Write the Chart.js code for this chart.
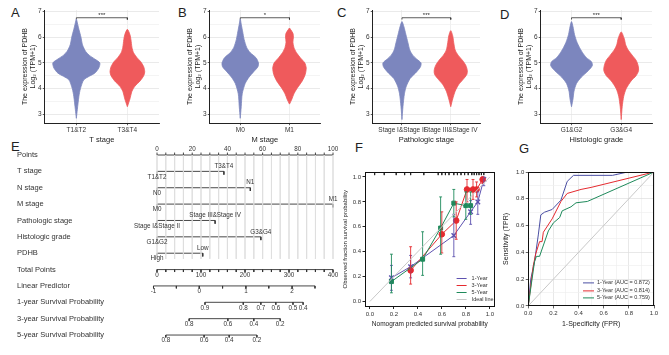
<!DOCTYPE html>
<html>
<head>
<meta charset="utf-8">
<script src="https://cdn.jsdelivr.net/npm/chart.js@4.4.0/dist/chart.umd.min.js"></script>
<style>
    html, body { margin: 0; padding: 0; background: #fff; }
    body { width: 669px; height: 355px; position: relative; overflow: hidden; font-family: "Liberation Sans", Arial, sans-serif; }
    canvas { position: absolute; }
    .tag { position: absolute; font-size: 13px; color: #222; line-height: 1; }
</style>
</head>
<body>
<div class="tag" style="left:11px;top:6px">A</div>
<div class="tag" style="left:178px;top:6px">B</div>
<div class="tag" style="left:337px;top:6px">C</div>
<div class="tag" style="left:500px;top:8px">D</div>
<div class="tag" style="left:11px;top:140px">E</div>
<div class="tag" style="left:355px;top:141px">F</div>
<div class="tag" style="left:519px;top:142px">G</div>

<canvas id="cA" width="165" height="145" style="left:0;top:0"></canvas>
<canvas id="cB" width="165" height="145" style="left:165px;top:0"></canvas>
<canvas id="cC" width="165" height="145" style="left:330px;top:0"></canvas>
<canvas id="cD" width="174" height="145" style="left:495px;top:0"></canvas>
<canvas id="cE" width="345" height="215" style="left:0;top:140px"></canvas>
<canvas id="cF" width="164" height="200" style="left:336px;top:140px"></canvas>
<canvas id="cG" width="169" height="200" style="left:500px;top:140px"></canvas>

<script>
    // --- A-D: violin panels (y level / half width) ---
    var catsA = ['T1&T2', 'T3&T4'];
    var catsB = ['M0', 'M1'];
    var catsC = ['Stage I&Stage II', 'Stage III&Stage IV'];
    var catsD = ['G1&G2', 'G3&G4'];

    var yA1 = [2.85, 3.2, 3.7, 4.0, 4.35, 4.6, 4.8, 5.0, 5.15, 5.3, 5.45, 5.7, 6.0, 6.3, 6.55, 6.7];
    var wA1 = [0, 0.02, 0.05, 0.08, 0.15, 0.36, 0.44, 0.46, 0.36, 0.25, 0.18, 0.12, 0.09, 0.05, 0.02, 0];
    var yA2 = [3.3, 3.6, 3.9, 4.1, 4.3, 4.5, 4.65, 4.85, 5.05, 5.2, 5.4, 5.6, 5.9, 6.1, 6.3];
    var wA2 = [0, 0.05, 0.09, 0.15, 0.25, 0.32, 0.34, 0.32, 0.26, 0.19, 0.12, 0.09, 0.07, 0.05, 0];

    var yB1 = [2.85, 3.3, 3.8, 4.2, 4.45, 4.65, 4.85, 5.0, 5.2, 5.4, 5.6, 5.9, 6.2, 6.5, 6.7];
    var wB1 = [0, 0.02, 0.04, 0.1, 0.18, 0.27, 0.36, 0.37, 0.32, 0.2, 0.13, 0.08, 0.05, 0.02, 0];
    var yB2 = [3.4, 3.6, 3.8, 4.0, 4.3, 4.55, 4.8, 5.0, 5.2, 5.4, 5.6, 5.8, 6.0, 6.15, 6.3, 6.35];
    var wB2 = [0, 0.05, 0.09, 0.15, 0.26, 0.32, 0.34, 0.31, 0.22, 0.14, 0.09, 0.07, 0.08, 0.07, 0.02, 0];

    var yC1 = [2.8, 3.3, 3.8, 4.1, 4.4, 4.65, 4.85, 5.0, 5.15, 5.3, 5.5, 5.8, 6.1, 6.4, 6.6];
    var wC1 = [0, 0.02, 0.05, 0.09, 0.17, 0.3, 0.38, 0.39, 0.3, 0.22, 0.16, 0.12, 0.08, 0.04, 0];
    var yC2 = [3.3, 3.6, 3.9, 4.15, 4.35, 4.55, 4.7, 4.9, 5.1, 5.3, 5.5, 5.8, 6.05, 6.25];
    var wC2 = [0, 0.04, 0.09, 0.16, 0.25, 0.33, 0.34, 0.31, 0.24, 0.15, 0.09, 0.06, 0.04, 0];

    var yD1 = [3.3, 3.6, 3.9, 4.2, 4.45, 4.7, 4.9, 5.05, 5.2, 5.4, 5.6, 5.8, 6.1, 6.4, 6.6];
    var wD1 = [0, 0.03, 0.05, 0.1, 0.2, 0.34, 0.42, 0.4, 0.3, 0.22, 0.16, 0.11, 0.06, 0.03, 0];
    var yD2 = [2.8, 3.3, 3.7, 4.0, 4.3, 4.5, 4.7, 4.9, 5.1, 5.3, 5.5, 5.7, 5.95, 6.2];
    var wD2 = [0, 0.02, 0.05, 0.1, 0.2, 0.3, 0.35, 0.34, 0.3, 0.22, 0.14, 0.09, 0.06, 0];

    // median and error bar ends [group1, group2]
    var medA = [4.9, 4.65],  loA = [4.35, 4.1],  hiA = [5.4, 5.2];
    var medB = [4.82, 4.7],  loB = [4.25, 4.1],  hiB = [5.38, 5.3];
    var medC = [4.88, 4.65], loC = [4.38, 4.1],  hiC = [5.38, 5.22];
    var medD = [4.88, 4.72], loD = [4.4, 4.15],  hiD = [5.35, 5.33];
    var yTicks = [3, 3.5, 4, 4.5, 5, 5.5, 6, 6.5, 7];

    // --- E: nomogram ---
    var rowNames = ['Points', 'T stage', 'N stage', 'M stage', 'Pathologic stage', 'Histologic grade', 'PDHB',
        'Total Points', 'Linear Predictor', '1-year Survival Probability', '3-year Survival Probability', '5-year Survival Probability'];
    var factorLow = ['T1&T2', 'N0', 'M0', 'Stage I&Stage II', 'G1&G2', 'High'];
    var factorHigh = ['T3&T4', 'N1', 'M1', 'Stage III&Stage IV', 'G3&G4', 'Low'];
    var factorPoints = [38, 53, 100, 33, 59, 26];
    var pointLabels = [0, 20, 40, 60, 80, 100];
    var totalLabels = [0, 100, 200, 300, 400];
    var lpTicks = [-1, -0.5, 0, 0.5, 1, 1.5, 2, 2.5];
    var lpTotal = [-8, 44, 96, 149, 202, 254, 307, 359];
    var surv1 = [0.9, 0.8, 0.7, 0.6, 0.5, 0.4];
    var surv1Total = [109, 196, 236, 270, 309, 332];
    var surv3 = [0.8, 0.6, 0.4, 0.2];
    var surv3Total = [73, 161, 220, 280];
    var surv5 = [0.8, 0.6, 0.4, 0.2];
    var surv5Total = [20, 107, 164, 227];

    // --- F: calibration ---
    var calNames = ['1-Year', '3-Year', '5-Year', 'Ideal line'];
    var f1x = [0.18, 0.34, 0.70, 0.84, 0.90, 0.95];
    var f1y = [0.19, 0.28, 0.53, 0.72, 0.80, 0.98];
    var f1lo = [0.09, 0.19, 0.36, 0.62, 0.70, 0.93];
    var f1hi = [0.29, 0.37, 0.70, 0.81, 0.88, 1.00];
    var f3x = [0.34, 0.60, 0.72, 0.81, 0.86, 0.89, 0.94];
    var f3y = [0.25, 0.54, 0.65, 0.90, 0.90, 0.90, 0.98];
    var f3lo = [0.14, 0.39, 0.50, 0.80, 0.82, 0.84, 0.95];
    var f3hi = [0.44, 0.72, 0.80, 0.98, 0.98, 0.96, 1.00];
    var f5x = [0.18, 0.44, 0.59, 0.70, 0.80, 0.84];
    var f5y = [0.16, 0.34, 0.59, 0.79, 0.77, 0.77];
    var f5lo = [0.07, 0.21, 0.38, 0.68, 0.66, 0.70];
    var f5hi = [0.38, 0.56, 0.84, 0.90, 0.88, 0.88];
    var fRug = [0.04, 0.12, 0.22, 0.29, 0.34, 0.45, 0.57, 0.60, 0.63, 0.66, 0.70, 0.73, 0.76, 0.79, 0.82, 0.85, 0.87, 0.89, 0.91, 0.93, 0.95];

    // --- G: ROC ---
    var rocNames = ['1-Year', '3-Year', '5-Year'];
    var rocAuc = [0.872, 0.814, 0.759];
    var g1x = [0, 0.02, 0.05, 0.08, 0.10, 0.13, 0.19, 0.26, 0.31, 0.36, 0.67, 0.79, 1.0];
    var g1y = [0, 0.20, 0.33, 0.53, 0.68, 0.70, 0.72, 0.79, 0.93, 0.975, 0.975, 1.0, 1.0];
    var g3x = [0, 0.04, 0.06, 0.09, 0.11, 0.12, 0.19, 0.26, 0.31, 0.42, 0.50, 1.0];
    var g3y = [0, 0.30, 0.39, 0.48, 0.48, 0.55, 0.65, 0.78, 0.84, 0.87, 0.885, 1.0];
    var g5x = [0, 0.05, 0.065, 0.09, 0.16, 0.20, 0.25, 0.27, 0.34, 0.38, 0.47, 1.0];
    var g5y = [0, 0.33, 0.37, 0.37, 0.56, 0.62, 0.66, 0.71, 0.74, 0.77, 0.78, 1.0];

    var FONT = '"Liberation Sans", Arial, sans-serif';
    Chart.defaults.font.family = FONT;
    Chart.defaults.color = '#333';

    function gap() { return {x: 0, y: null}; }
    function zip(xs, ys) { return xs.map(function (x, i) { return {x: x, y: ys[i]}; }); }

    // right outline upwards, left outline downwards, back to the bottom tip
    function violinPts(cx, ys, ws) {
        var pts = [];
        for (var i = 0; i < ys.length; i++) pts.push({x: cx + ws[i], y: ys[i]});
        for (var j = ys.length - 2; j >= 0; j--) pts.push({x: cx - ws[j], y: ys[j]});
        return pts;
    }

    function crossPts(cx, med, lo, hi) {
        return [{x: cx - 0.27, y: med}, {x: cx + 0.27, y: med}, gap(),
            {x: cx, y: lo}, {x: cx, y: hi}, gap(),
            {x: cx - 0.1, y: lo}, {x: cx + 0.1, y: lo}, gap(),
            {x: cx - 0.1, y: hi}, {x: cx + 0.1, y: hi}];
    }

    function baseOpts() {
        return {devicePixelRatio: 1, responsive: false, animation: false, events: [],
            plugins: {legend: {display: false}, tooltip: {enabled: false}}};
    }

    // 1. violin panels
    function violinChart(id, o) {
        var blue = '#7C86BE', red = '#EF5A5C';
        var ds = [
            {data: violinPts(1, o.ys[0], o.ws[0]), backgroundColor: blue, borderColor: blue, borderWidth: 0.8, fill: 'shape', tension: 0.25, pointRadius: 0, showLine: true},
            {data: violinPts(2, o.ys[1], o.ws[1]), backgroundColor: red, borderColor: red, borderWidth: 0.8, fill: 'shape', tension: 0.25, pointRadius: 0, showLine: true},
            {data: crossPts(1, o.med[0], o.lo[0], o.hi[0]), borderColor: '#1a1a1a', borderWidth: 1, pointRadius: 0, showLine: true},
            {data: crossPts(2, o.med[1], o.lo[1], o.hi[1]), borderColor: '#1a1a1a', borderWidth: 1, pointRadius: 0, showLine: true},
            {data: [{x: 1, y: 6.68}, {x: 1, y: 6.75}, {x: 2, y: 6.75}, {x: 2, y: 6.68}], borderColor: '#333', borderWidth: 0.8, pointRadius: 0, showLine: true}
        ];
        var opts = baseOpts();
        opts.layout = {padding: {left: o.padL, right: o.padR, top: 10, bottom: 1}};
        opts.scales = {
            x: {type: 'linear', min: o.xmin, max: o.xmax,
                afterBuildTicks: function (ax) { ax.ticks = [{value: 1}, {value: 2}]; },
                ticks: {callback: function (v) { return o.cats[v - 1]; }, font: {size: 6.5}, color: '#333', padding: 1, maxRotation: 0, autoSkip: false},
                grid: {color: '#ebebeb', tickColor: '#333', tickLength: 2, lineWidth: 0.8},
                border: {color: '#222', width: 1},
                title: {display: true, text: o.title, font: {size: 7.5}, color: '#222', padding: {top: 0, bottom: 0}}},
            y: {type: 'linear', min: 2.66, max: 7.05,
                afterBuildTicks: function (ax) { ax.ticks = yTicks.map(function (v) { return {value: v}; }); },
                ticks: {callback: function (v) { return v % 1 === 0 ? String(v) : ''; }, font: {size: 6.5}, color: '#333', padding: 1},
                grid: {
                    color: function (c) { return c.tick && c.tick.value % 1 === 0 ? '#e4e4e4' : '#f1f1f1'; },
                    tickColor: function (c) { return c.tick && c.tick.value % 1 === 0 ? '#333' : 'rgba(0,0,0,0)'; },
                    tickLength: 2, lineWidth: 0.8},
                border: {color: '#222', width: 1},
                title: {display: true, text: ['The expression of PDHB', 'Log\u2082 (TPM+1)'], font: {size: 7, lineHeight: 1.15}, color: '#222', padding: {top: 0, bottom: 0}}}
        };
        new Chart(document.getElementById(id), {
            type: 'scatter',
            data: {datasets: ds},
            options: opts,
            plugins: [{id: 'sig', afterDatasetsDraw: function (c) {
                var ctx = c.ctx;
                ctx.save();
                ctx.fillStyle = '#222';
                ctx.font = '6px ' + FONT;
                ctx.textAlign = 'center';
                ctx.textBaseline = 'bottom';
                ctx.fillText(o.sig, c.scales.x.getPixelForValue(1.5), c.scales.y.getPixelForValue(6.75) + 1);
                ctx.restore();
            }}]
        });
    }

    violinChart('cA', {cats: catsA, title: 'T stage', sig: '***', ys: [yA1, yA2], ws: [wA1, wA2], med: medA, lo: loA, hi: hiA, padL: 21, padR: 6, xmin: 0.38, xmax: 2.62});
    violinChart('cB', {cats: catsB, title: 'M stage', sig: '*', ys: [yB1, yB2], ws: [wB1, wB2], med: medB, lo: loB, hi: hiB, padL: 21, padR: 10, xmin: 0.38, xmax: 2.62});
    violinChart('cC', {cats: catsC, title: 'Pathologic stage', sig: '***', ys: [yC1, yC2], ws: [wC1, wC2], med: medC, lo: loC, hi: hiC, padL: 19, padR: 15, xmin: 0.4, xmax: 2.6});
    violinChart('cD', {cats: catsD, title: 'Histologic grade', sig: '***', ys: [yD1, yD2], ws: [wD1, wD2], med: medD, lo: loD, hi: hiD, padL: 22, padR: 17, xmin: 0.38, xmax: 2.62});

    // 2. nomogram
    (function () {
        var grid = [], axes = [];
        for (var g = 0; g <= 100; g += 5) grid.push({x: g, y: 0}, {x: g, y: 6.35}, gap());
        // Points axis, ticks up
        axes.push({x: 0, y: 0}, {x: 100, y: 0}, gap());
        for (var p = 0; p <= 100; p += 5) axes.push({x: p, y: 0}, {x: p, y: -0.15}, gap());
        // factor rows
        factorPoints.forEach(function (pt, i) {
            var r = i + 1;
            axes.push({x: 0, y: r + 0.2}, {x: 0, y: r}, {x: pt, y: r}, {x: pt, y: r + 0.2}, gap());
        });
        // Total points
        axes.push({x: 0, y: 7}, {x: 100, y: 7}, gap());
        for (var t = 0; t <= 400; t += 20) axes.push({x: t / 4, y: 7}, {x: t / 4, y: 7.15}, gap());
        function scaleRow(totals, r) {
            axes.push({x: totals[0] / 4, y: r}, {x: totals[totals.length - 1] / 4, y: r}, gap());
            totals.forEach(function (v) { axes.push({x: v / 4, y: r}, {x: v / 4, y: r + 0.15}, gap()); });
        }
        scaleRow(lpTotal, 8);
        scaleRow(surv1Total, 9);
        scaleRow(surv3Total, 10);
        scaleRow(surv5Total, 11);

        var opts = baseOpts();
        opts.layout = {padding: 0, autoPadding: false};
        opts.scales = {
            x: {type: 'linear', min: -89.2, max: 106.8, display: false},
            y: {type: 'linear', min: -0.917, max: 12.22, reverse: true, display: false}
        };
        new Chart(document.getElementById('cE'), {
            type: 'scatter',
            data: {datasets: [
                {data: grid, borderColor: '#dcdcdc', borderWidth: 0.7, pointRadius: 0, showLine: true},
                {data: axes, borderColor: '#333', borderWidth: 0.9, pointRadius: 0, showLine: true}
            ]},
            options: opts,
            plugins: [{id: 'nomoText', afterDatasetsDraw: function (c) {
                var ctx = c.ctx, xs = c.scales.x, ys = c.scales.y;
                function txt(s, x, y, align) { ctx.textAlign = align || 'center'; ctx.fillText(s, x, y); }
                ctx.save();
                ctx.fillStyle = '#333';
                ctx.textBaseline = 'middle';
                ctx.font = '7.5px ' + FONT;
                rowNames.forEach(function (n, i) { txt(n, 17, ys.getPixelForValue(i), 'left'); });
                ctx.font = '6.3px ' + FONT;
                pointLabels.forEach(function (v) { txt(String(v), xs.getPixelForValue(v), ys.getPixelForValue(0) - 6); });
                factorPoints.forEach(function (pt, i) {
                    var y = ys.getPixelForValue(i + 1);
                    txt(factorHigh[i], xs.getPixelForValue(pt), y - 5);
                    txt(factorLow[i], xs.getPixelForValue(0), y + 5.5);
                });
                totalLabels.forEach(function (v) { txt(String(v), xs.getPixelForValue(v / 4), ys.getPixelForValue(7) + 5.5); });
                lpTicks.forEach(function (v, i) {
                    if (v % 1 === 0) txt(String(v), xs.getPixelForValue(lpTotal[i] / 4), ys.getPixelForValue(8) + 5.5);
                });
                [[surv1, surv1Total, 9], [surv3, surv3Total, 10], [surv5, surv5Total, 11]].forEach(function (s) {
                    s[0].forEach(function (v, i) { txt(v.toFixed(1), xs.getPixelForValue(s[1][i] / 4), ys.getPixelForValue(s[2]) + 5.5); });
                });
                ctx.restore();
            }}]
        });
    })();

    var framePlugin = {id: 'frame', afterDatasetsDraw: function (c) {
        var a = c.chartArea, ctx = c.ctx;
        ctx.save();
        ctx.strokeStyle = '#111';
        ctx.lineWidth = 1;
        ctx.strokeRect(Math.round(a.left) + 0.5, Math.round(a.top) + 0.5, Math.round(a.right - a.left) - 1, Math.round(a.bottom - a.top) - 1);
        ctx.restore();
    }};

    function legendPlugin(items, dxLine, dxText, dys, size) {
        return {id: 'lgd', afterDatasetsDraw: function (c) {
            var a = c.chartArea, ctx = c.ctx;
            ctx.save();
            ctx.font = size + 'px ' + FONT;
            ctx.textBaseline = 'middle';
            ctx.textAlign = 'left';
            items.forEach(function (it, i) {
                var y = a.bottom + dys[i];
                ctx.strokeStyle = it[1];
                ctx.lineWidth = 1;
                ctx.beginPath();
                ctx.moveTo(a.right + dxLine[0], y);
                ctx.lineTo(a.right + dxLine[1], y);
                ctx.stroke();
                ctx.fillStyle = '#333';
                ctx.fillText(it[0], a.right + dxText, y);
            });
            ctx.restore();
        }};
    }

    function unitAxis(min, max, title, tsize, ticksEvery, gridOn, titleGap) {
        return {type: 'linear', min: min, max: max,
            afterBuildTicks: function (ax) {
                var t = [];
                for (var k = 0; k <= 10; k += ticksEvery) t.push({value: k / 10});
                ax.ticks = t;
            },
            ticks: {callback: function (v) { return Math.round(v * 10) % 2 === 0 ? v.toFixed(1) : ''; }, font: {size: 6}, color: '#333', padding: 1.5, maxRotation: 0, autoSkip: false},
            grid: gridOn ? {
                color: function (c) { return c.tick && Math.round(c.tick.value * 10) % 2 === 0 ? '#dedede' : '#efefef'; },
                tickColor: function (c) { return c.tick && Math.round(c.tick.value * 10) % 2 === 0 ? '#222' : 'rgba(0,0,0,0)'; },
                tickLength: 2.5, lineWidth: 0.7
            } : {drawOnChartArea: false, tickLength: 2.5, tickColor: '#222'},
            border: {color: '#111', width: 1},
            title: {display: true, text: title, font: {size: tsize}, color: '#222', padding: {top: 1, bottom: titleGap}}};
    }

    // 3. calibration plot
    (function () {
        var cols = ['#5E52B0', '#E52A2F', '#1F8A5B', '#c8c8c8'];
        function errPts(xs, lo, hi) {
            var out = [], c = 0.012;
            xs.forEach(function (x, i) {
                out.push({x: x, y: lo[i]}, {x: x, y: hi[i]}, gap(),
                    {x: x - c, y: lo[i]}, {x: x + c, y: lo[i]}, gap(),
                    {x: x - c, y: hi[i]}, {x: x + c, y: hi[i]}, gap());
            });
            return out;
        }
        var rug = [];
        fRug.forEach(function (r) { rug.push({x: r, y: 1.04}, {x: r, y: 1.015}, gap()); });
        var opts = baseOpts();
        opts.layout = {padding: {left: 5, right: 5, top: 32, bottom: 12}};
        opts.scales = {
            x: unitAxis(-0.04, 1.04, 'Nomogram predicted survival probability', 6.5, 2, false, 0),
            y: unitAxis(-0.04, 1.04, 'Observed fraction survival probability', 6, 2, false, 2)
        };
        new Chart(document.getElementById('cF'), {
            type: 'scatter',
            data: {datasets: [
                {data: [{x: 0, y: 0}, {x: 1, y: 1}], borderColor: cols[3], borderWidth: 1, pointRadius: 0, showLine: true},
                {data: rug, borderColor: '#222', borderWidth: 0.8, pointRadius: 0, showLine: true},
                {data: errPts(f5x, f5lo, f5hi), borderColor: cols[2], borderWidth: 0.9, pointRadius: 0, showLine: true},
                {data: errPts(f3x, f3lo, f3hi), borderColor: cols[1], borderWidth: 0.9, pointRadius: 0, showLine: true},
                {data: errPts(f1x, f1lo, f1hi), borderColor: cols[0], borderWidth: 0.9, pointRadius: 0, showLine: true},
                {data: zip(f5x, f5y), borderColor: cols[2], backgroundColor: cols[2], borderWidth: 1, pointStyle: 'rect', pointRadius: 2.8, showLine: true},
                {data: zip(f3x, f3y), borderColor: cols[1], backgroundColor: cols[1], borderWidth: 1, pointStyle: 'circle', pointRadius: 2.8, showLine: true},
                {data: zip(f1x, f1y), borderColor: cols[0], backgroundColor: cols[0], borderWidth: 1, pointStyle: 'crossRot', pointRadius: 3.2, pointBorderWidth: 1.4, showLine: true}
            ]},
            options: opts,
            plugins: [framePlugin, legendPlugin(calNames.map(function (n, i) { return [n, cols[i]]; }), [-38, -28], -23, [-28, -21, -14, -7], 5.5)]
        });
    })();

    // 4. ROC
    (function () {
        var cols = ['#4B4FA3', '#E52A2F', '#1F8A5B'];
        var opts = baseOpts();
        opts.layout = {padding: {left: 1, right: 15, top: 32, bottom: 12}};
        opts.scales = {
            x: unitAxis(0, 1, '1-Specificity (FPR)', 7, 1, true, 0),
            y: unitAxis(0, 1, 'Sensitivity (TPR)', 7, 1, true, 4)
        };
        new Chart(document.getElementById('cG'), {
            type: 'scatter',
            data: {datasets: [
                {data: [{x: 0, y: 0}, {x: 1, y: 1}], borderColor: '#c8c8c8', borderWidth: 1, pointRadius: 0, showLine: true},
                {data: zip(g5x, g5y), borderColor: cols[2], borderWidth: 1, pointRadius: 0, showLine: true},
                {data: zip(g3x, g3y), borderColor: cols[1], borderWidth: 1, pointRadius: 0, showLine: true},
                {data: zip(g1x, g1y), borderColor: cols[0], borderWidth: 1, pointRadius: 0, showLine: true}
            ]},
            options: opts,
            plugins: [framePlugin, legendPlugin(rocNames.map(function (n, i) {
                return [n + ' (AUC = ' + rocAuc[i].toFixed(3) + ')', cols[i]];
            }), [-71, -60], -57, [-23, -15, -8], 5.5)]
        });
    })();
</script>
</body>
</html>
